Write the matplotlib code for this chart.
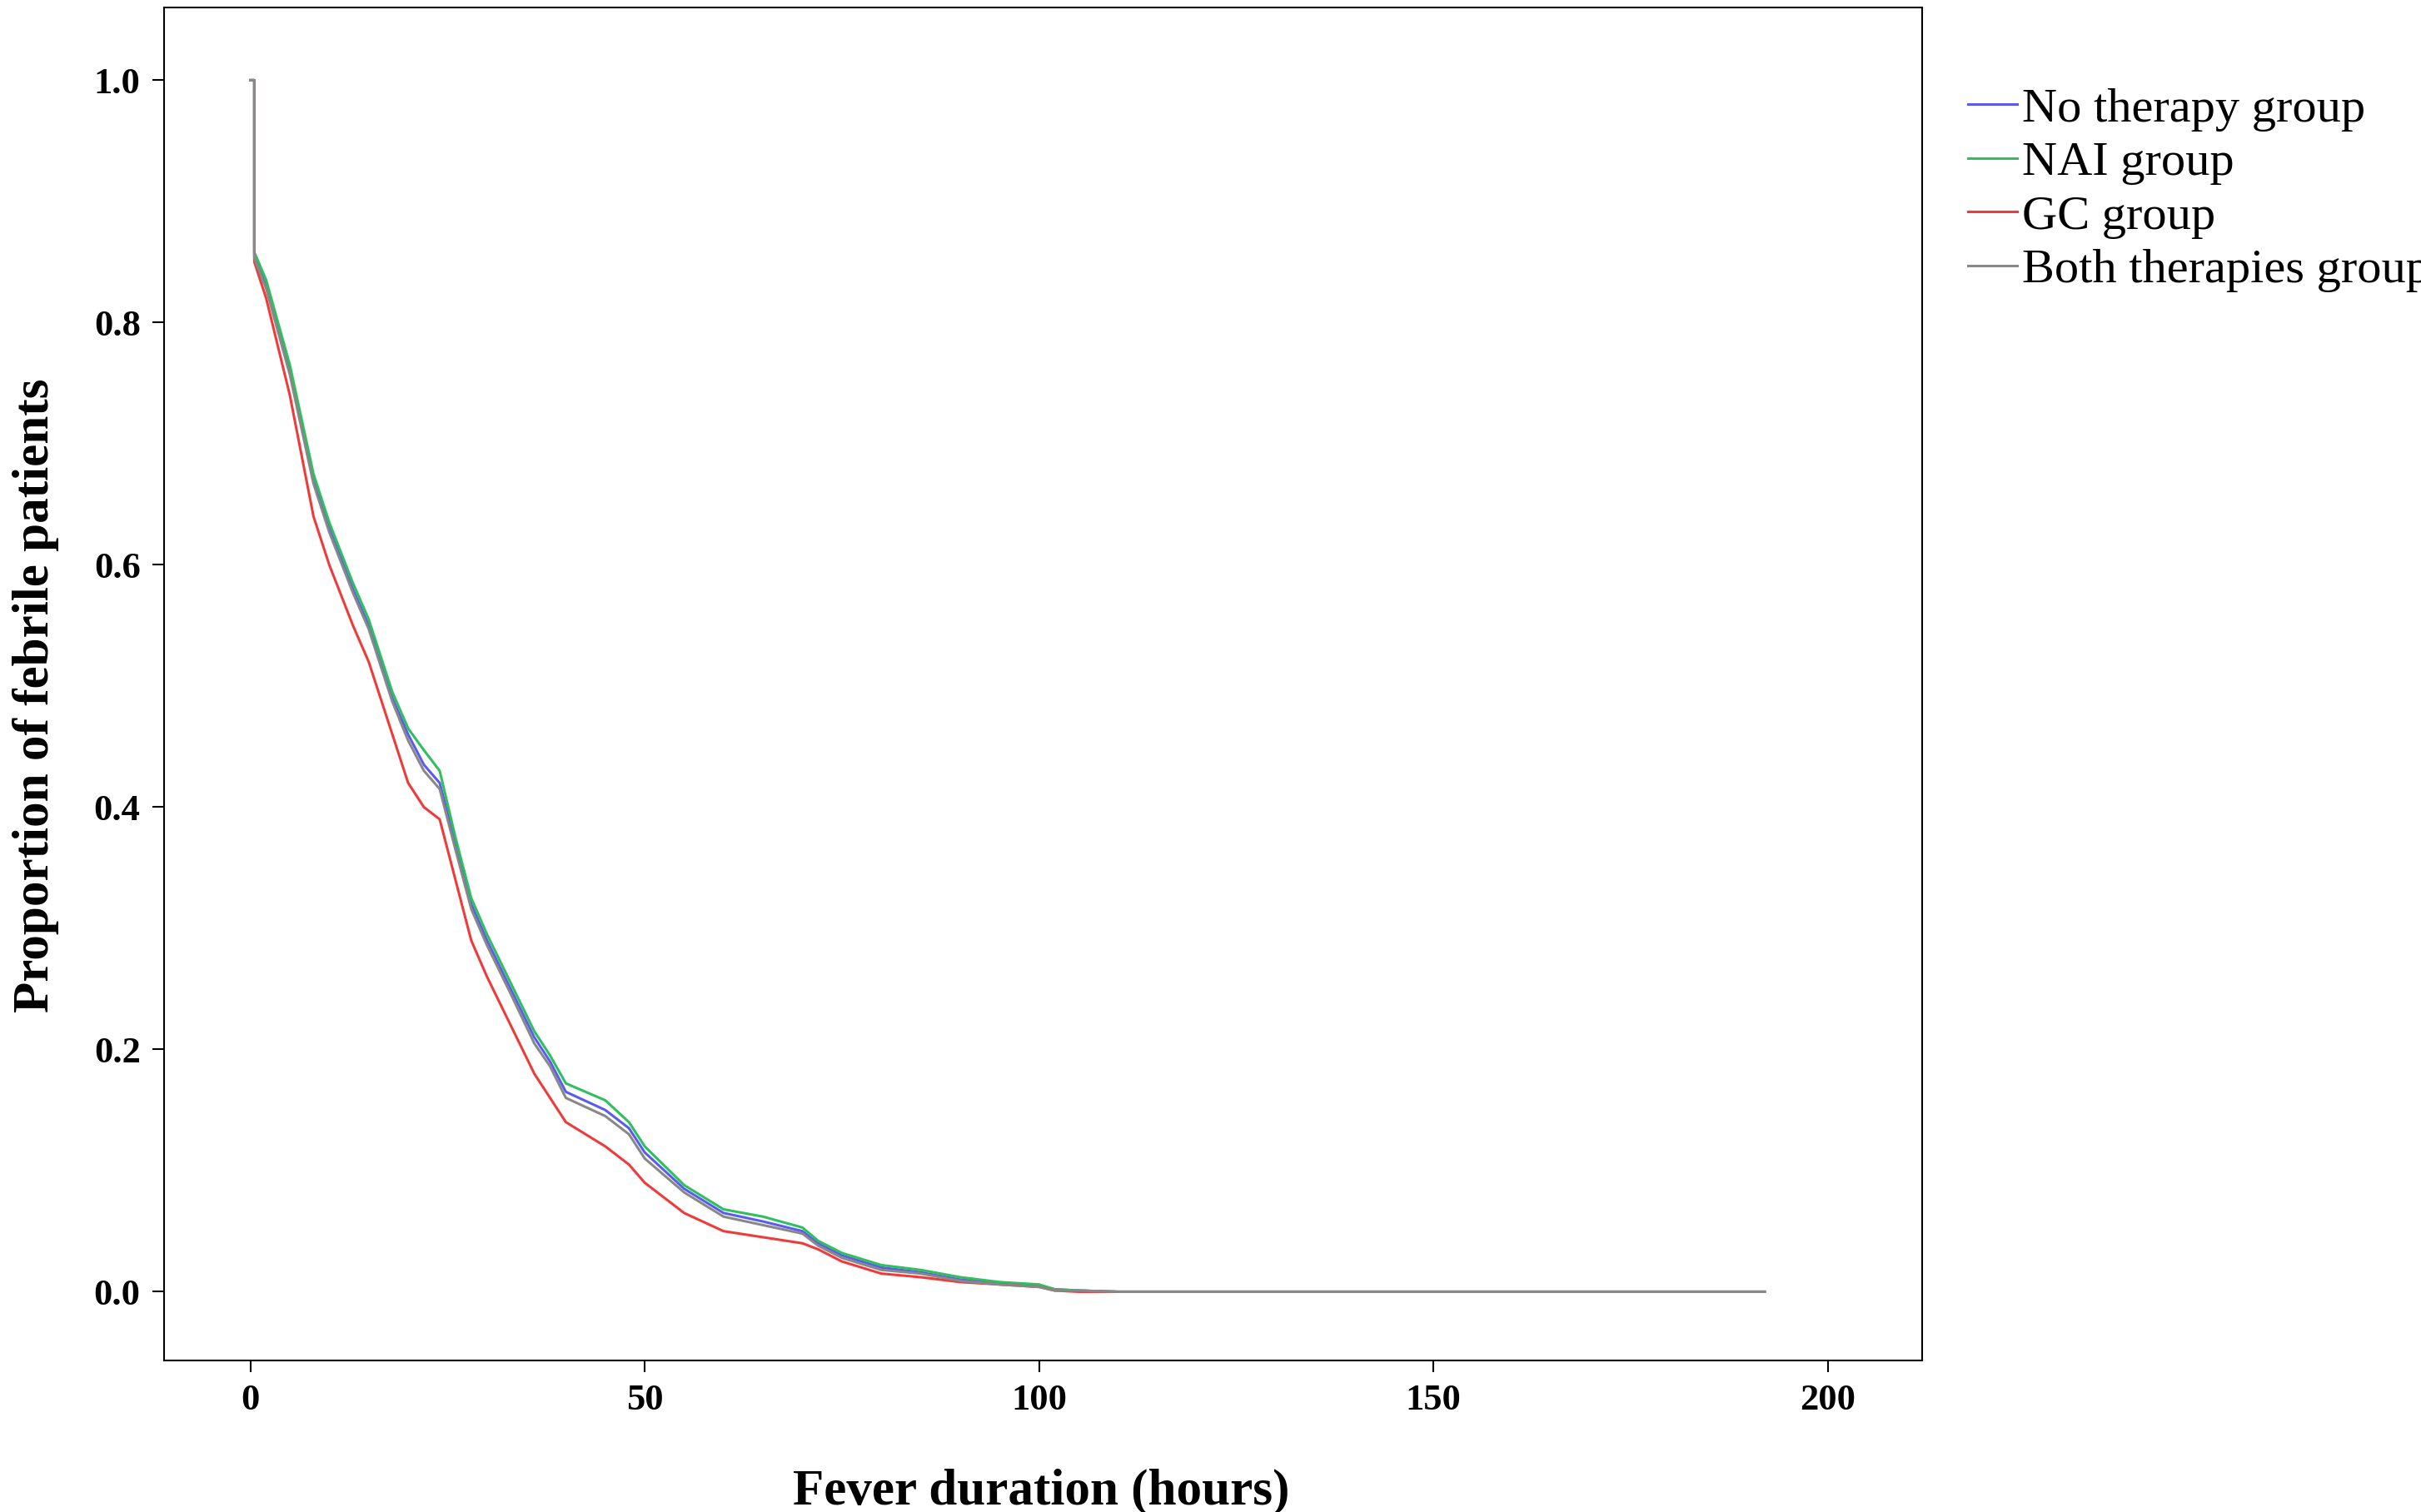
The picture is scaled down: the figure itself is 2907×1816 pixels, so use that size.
import numpy as np
import matplotlib.pyplot as plt

plt.rcParams['font.family'] = ['Liberation Serif', 'DejaVu Serif']

# time points (hours) and proportion still febrile
hours = [0, 0.5, 0.5, 2, 5, 8, 10, 13, 15, 18, 20, 22, 24, 26, 28, 30, 33, 36, 38, 40, 45, 48,
         50, 55, 60, 65, 70, 72, 75, 80, 85, 90, 95, 100, 102, 105, 110, 192]
no_therapy = [1.0, 1.0, 0.855, 0.83, 0.76, 0.67, 0.63, 0.58, 0.55, 0.49, 0.46, 0.435, 0.42, 0.37,
              0.32, 0.29, 0.25, 0.21, 0.19, 0.165, 0.15, 0.135, 0.115, 0.085, 0.065, 0.058,
              0.05, 0.04, 0.03, 0.02, 0.016, 0.01, 0.007, 0.005, 0.002, 0.001, 0.0, 0.0]
nai = [1.0, 1.0, 0.858, 0.835, 0.765, 0.675, 0.635, 0.585, 0.555, 0.495, 0.465, 0.447, 0.43, 0.375,
       0.325, 0.295, 0.255, 0.215, 0.195, 0.172, 0.158, 0.14, 0.12, 0.088, 0.068, 0.062,
       0.053, 0.042, 0.032, 0.022, 0.018, 0.012, 0.008, 0.006, 0.002, 0.001, 0.0, 0.0]
gc = [1.0, 1.0, 0.85, 0.82, 0.74, 0.64, 0.60, 0.55, 0.52, 0.46, 0.42, 0.40, 0.39, 0.34, 0.29,
      0.26, 0.22, 0.18, 0.16, 0.14, 0.12, 0.105, 0.09, 0.065, 0.05, 0.045, 0.04, 0.035,
      0.025, 0.015, 0.012, 0.008, 0.006, 0.004, 0.001, 0.0, 0.0, 0.0]
both = [1.0, 1.0, 0.853, 0.828, 0.757, 0.667, 0.627, 0.577, 0.547, 0.487, 0.455, 0.43, 0.415, 0.365,
        0.316, 0.286, 0.246, 0.205, 0.186, 0.16, 0.145, 0.13, 0.11, 0.082, 0.062, 0.055,
        0.048, 0.038, 0.028, 0.018, 0.015, 0.009, 0.006, 0.004, 0.001, 0.001, 0.0, 0.0]

labels = ['No therapy group', 'NAI group', 'GC group', 'Both therapies group']
colors = ['#5b5bf0', '#2fbf5f', '#f03a3a', '#888888']
series = [no_therapy, nai, gc, both]

fig = plt.figure(figsize=(29.07, 18.16), dpi=100)
ax = fig.add_axes([0.0676, 0.1, 0.7264, 0.895])

for vals, lab, col in zip(series, labels, colors):
    ax.plot(hours, vals, color=col, lw=2.2, label=lab)

ax.set_xlim(-11, 212)
ax.set_ylim(-0.057, 1.06)
ax.set_xticks([0, 50, 100, 150, 200])
ax.set_yticks(np.arange(0, 1.01, 0.2))
ax.yaxis.set_major_formatter(plt.FormatStrFormatter('%.1f'))
ax.tick_params(labelsize=32, length=10, width=1.5, pad=10)
for t in ax.get_xticklabels() + ax.get_yticklabels():
    t.set_fontweight('bold')
for s in ax.spines.values():
    s.set_linewidth(1.5)

fig.text(0.43, 0.005, 'Fever duration (hours)', fontsize=44, fontweight='bold', ha='center')
fig.text(0.005, 0.54, 'Proportion of febrile patients', fontsize=44, fontweight='bold',
         rotation=90, va='center')

fig.legend(loc='upper left', bbox_to_anchor=(0.805, 0.955), frameon=False, fontsize=42,
           handlelength=1.0, handletextpad=0.1, labelspacing=0.2, borderaxespad=0)

fig.savefig('out.png', dpi=100)
